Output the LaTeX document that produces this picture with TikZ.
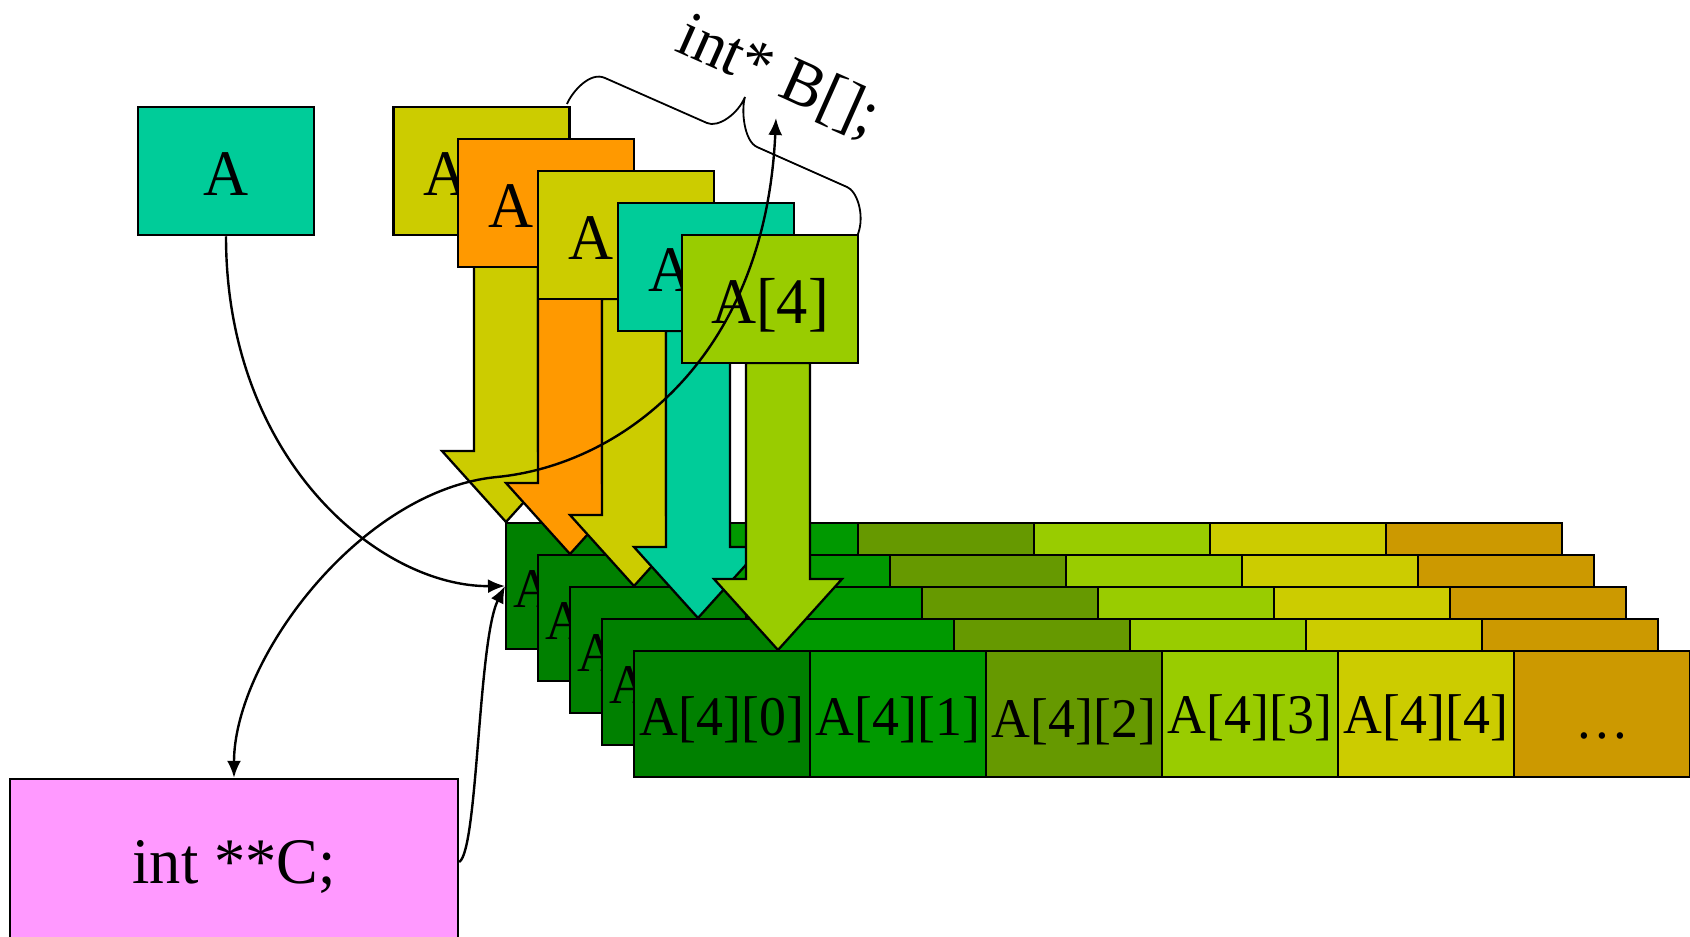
\documentclass[tikz,border=0pt]{standalone}
\usepackage{fontspec}
\setmainfont{Liberation Serif}[FakeStretch=0.96]
\usetikzlibrary{arrows.meta}
\definecolor{cYel}{HTML}{CCCC00}
\definecolor{cOra}{HTML}{FF9900}
\definecolor{cTeal}{HTML}{00CC99}
\definecolor{cLime}{HTML}{99CC00}
\definecolor{cPink}{HTML}{FF99FF}
\definecolor{gA}{HTML}{008000}
\definecolor{gB}{HTML}{009900}
\definecolor{gC}{HTML}{669900}
\definecolor{gD}{HTML}{99CC00}
\definecolor{gE}{HTML}{CCCC00}
\definecolor{gF}{HTML}{CC9900}
\begin{document}
\begin{tikzpicture}[x=1pt,y=-1pt,
  box/.style={draw=black, line width=2.5pt, minimum width=176pt, minimum height=128pt, inner sep=0pt},
  cell/.style={draw=black, line width=2pt, minimum width=176pt, minimum height=126pt, inner sep=0pt},
  bigtxt/.style={inner sep=0pt, font=\fontsize{65}{70}\selectfont},
  celltxt/.style={inner sep=0pt, font=\fontsize{56}{60}\selectfont},
  blk/.style={draw=black, line width=2.3pt, line join=miter},
  conn/.style={draw=black, line width=2.4pt},
  tip/.style={-{Latex[length=17pt,width=14pt]}},
  twotip/.style={{Latex[length=17pt,width=14pt]}-{Latex[length=17pt,width=14pt]}},
  bracepath/.style={draw=black, line width=1.8pt}
]
\useasboundingbox (0,0) rectangle (1690,937);
\fill[white] (0,0) rectangle (1690,937);

% block arrows interleaved with the rows of cells
\foreach \k/\acol/\acx in {0/cYel/506,1/cOra/570,2/cYel/634,3/cTeal/698,4/cLime/778}{
  \pgfmathsetmacro{\at}{235+32*\k}
  \pgfmathsetmacro{\hb}{451+32*\k}
  \pgfmathsetmacro{\ty}{522+32*\k}
  \draw[blk, fill=\acol] (\acx-32,\at) -- (\acx-32,\hb) -- (\acx-64,\hb) -- (\acx,\ty)
     -- (\acx+64,\hb) -- (\acx+32,\hb) -- (\acx+32,\at) -- cycle;
  \pgfmathsetmacro{\rl}{506+32*\k}
  \pgfmathsetmacro{\rt}{523+32*\k}
  \foreach \j/\ccol in {0/gA,1/gB,2/gC,3/gD,4/gE,5/gF}{
    \node[cell, fill=\ccol] (cell\k\j) at (\rl+88+176*\j, \rt+63) {};
  }
  \ifnum\k<4 \node[celltxt, anchor=base west] (rowtxt\k) at (\rl+7,\rt+84) {A};\fi
}

% front row labels
\node[celltxt, anchor=base] (t40) at (722,735) {A[4][0]};
\node[celltxt, anchor=base] (t41) at (898,735) {A[4][1]};
\node[celltxt, anchor=base] (t42) at (1074,737) {A[4][2]};
\node[celltxt, anchor=base] (t43) at (1250,733) {A[4][3]};
\node[celltxt, anchor=base] (t44) at (1426,733) {A[4][4]};
\node[celltxt, anchor=base] (t45) at (1602,738) {…};

% stacked boxes
\foreach \k/\bcol/\bx in {0/cYel/481.5,1/cOra/546,2/cYel/626,3/cTeal/706}{
  \node[box, fill=\bcol] (b\k) at (\bx, 171+32*\k) {};
  \node[bigtxt, anchor=base west] (bt\k) at (\bx-58, 195+32*\k) {A};
}
\node[box, fill=cLime] (b4) at (770,299) {};
\node[bigtxt, anchor=base] (bt4) at (770,323) {A[4]};

% single box A
\node[box, fill=cTeal] (boxA) at (226,171) {};
\node[bigtxt, anchor=base] (tA) at (226,195) {A};

% pink box
\node[draw=black, line width=2.5pt, fill=cPink, minimum width=448pt, minimum height=166pt, inner sep=0pt] (pink) at (234,862) {};
\node[bigtxt, anchor=base] (tC) at (234,883) {int **C;};

% brace and rotated declaration
\draw[bracepath] (567,104) .. controls (572,92) and (590,71) .. (605,78) -- (707,123)
  .. controls (718,128) and (738,114) .. (745,97)
  .. controls (741,110) and (744,141) .. (757,147) -- (847,187)
  .. controls (857,191) and (865,215) .. (858,234);
\node[bigtxt, rotate=-24, anchor=base west] (bdecl) at (673,50) {int* B[];};

% connectors
\coordinate (btip) at (776,118);
\coordinate (cmid) at (497,477);
\draw[conn, tip] (boxA.south) .. controls (226,460) and (380,587) .. (cell00.west);
\draw[conn, tip] (pink.east) .. controls (478,850) and (478,640) .. (cell00.west);
\draw[conn, twotip] (pink.north) .. controls (234,660) and (360,490) .. (cmid)
   .. controls (620,465) and (765,360) .. (btip);
\end{tikzpicture}
\end{document}
